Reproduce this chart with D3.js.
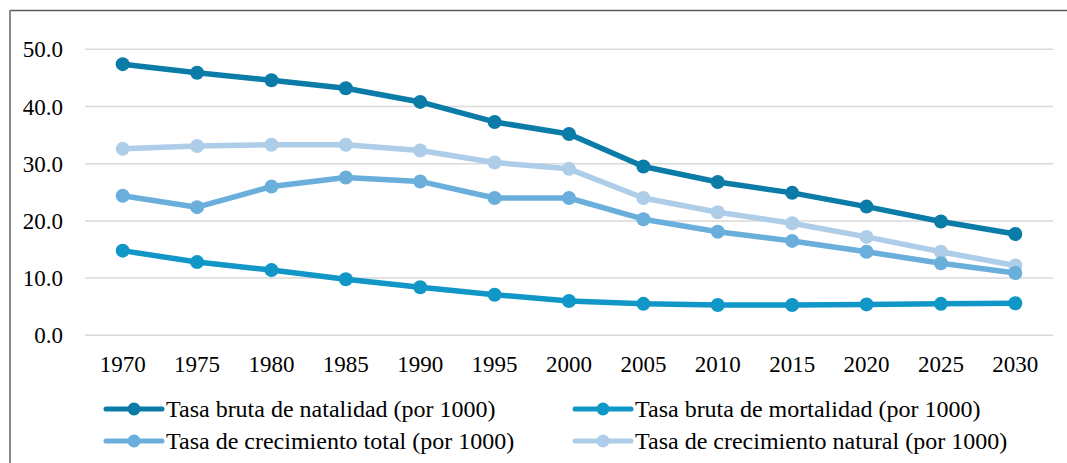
<!DOCTYPE html>
<html lang="es">
<head>
    <meta charset="UTF-8">
    <title>Tasas demográficas 1970-2030</title>
    <script src="https://d3js.org/d3.v7.min.js"></script>
    <style>
        body {
            margin: 0;
            background: #fff;
        }
        svg text {
            font-family: "Liberation Serif", "Times New Roman", Times, serif;
            fill: #000;
        }
        .tick-label {
            font-size: 23px;
        }
        .legend-label {
            font-size: 24px;
        }
    </style>
</head>
<body>
    <div id="chart"></div>

    <script>
        // Data
        const years = ["1970", "1975", "1980", "1985", "1990", "1995", "2000",
                       "2005", "2010", "2015", "2020", "2025", "2030"];
        const natalidad   = [47.4, 45.9, 44.6, 43.2, 40.8, 37.3, 35.2, 29.5, 26.8, 24.9, 22.5, 19.9, 17.7];
        const mortalidad  = [14.8, 12.8, 11.4, 9.8, 8.4, 7.1, 6.0, 5.5, 5.3, 5.3, 5.4, 5.5, 5.6];
        const crecTotal   = [24.4, 22.4, 26.0, 27.6, 26.9, 24.0, 24.0, 20.3, 18.1, 16.5, 14.6, 12.6, 10.9];
        const crecNatural = [32.6, 33.1, 33.3, 33.3, 32.3, 30.2, 29.1, 24.0, 21.5, 19.6, 17.2, 14.6, 12.2];
        const yTicks = [0, 10, 20, 30, 40, 50];

        const series = [
            { name: "Tasa bruta de natalidad (por 1000)", values: natalidad, color: "#0b7ba7" },
            { name: "Tasa bruta de mortalidad (por 1000)", values: mortalidad, color: "#1196c8" },
            { name: "Tasa de crecimiento total (por 1000)", values: crecTotal, color: "#6aafdc" },
            { name: "Tasa de crecimiento natural (por 1000)", values: crecNatural, color: "#aecde8" }
        ];
        // draw order: lighter lines underneath the darker ones
        const drawOrder = [3, 2, 1, 0];

        const width = 1067, height = 463;

        const svg = d3.select("#chart").append("svg")
            .attr("width", width)
            .attr("height", height)
            .attr("viewBox", [0, 0, width, height]);

        // frame (only the top and left edges fall inside the picture)
        svg.append("line")
            .attr("x1", 10).attr("x2", width)
            .attr("y1", 10.5).attr("y2", 10.5)
            .attr("stroke", "#5a5a5a").attr("stroke-width", 1.5);
        svg.append("line")
            .attr("x1", 10).attr("x2", 10)
            .attr("y1", 10).attr("y2", height)
            .attr("stroke", "#8a8a8a").attr("stroke-width", 2);

        const x = d3.scalePoint()
            .domain(years)
            .range([85.5, 1052.5])
            .padding(0.5);

        const y = d3.scaleLinear()
            .domain([0, 50])
            .range([335.3, 49.3]);

        // gridlines
        svg.append("g")
            .selectAll("line")
            .data(yTicks)
            .join("line")
            .attr("x1", 85).attr("x2", 1053)
            .attr("y1", d => y(d)).attr("y2", d => y(d))
            .attr("stroke", "#d9d9d9")
            .attr("stroke-width", 1.5);

        // y labels
        svg.append("g")
            .selectAll("text")
            .data(yTicks)
            .join("text")
            .attr("class", "tick-label")
            .attr("x", 63)
            .attr("y", d => y(d))
            .attr("dy", "0.35em")
            .attr("text-anchor", "end")
            .text(d => d3.format(".1f")(d));

        // x labels
        svg.append("g")
            .selectAll("text")
            .data(years)
            .join("text")
            .attr("class", "tick-label")
            .attr("x", d => x(d))
            .attr("y", 372)
            .attr("text-anchor", "middle")
            .text(d => d);

        const line = d3.line()
            .x((d, i) => x(years[i]))
            .y(d => y(d));

        drawOrder.forEach(k => {
            const s = series[k];
            const g = svg.append("g");
            g.append("path")
                .datum(s.values)
                .attr("fill", "none")
                .attr("stroke", s.color)
                .attr("stroke-width", 5.5)
                .attr("stroke-linejoin", "round")
                .attr("d", line);
            g.selectAll("circle")
                .data(s.values)
                .join("circle")
                .attr("cx", (d, i) => x(years[i]))
                .attr("cy", d => y(d))
                .attr("r", 7)
                .attr("fill", s.color);
        });

        // legend, 2 columns x 2 rows
        const legendPos = [
            { lx: 106, ly: 409 },
            { lx: 575, ly: 409 },
            { lx: 106, ly: 441 },
            { lx: 575, ly: 441 }
        ];

        const legend = svg.append("g")
            .selectAll("g")
            .data(series)
            .join("g")
            .attr("transform", (d, i) => `translate(${legendPos[i].lx},${legendPos[i].ly})`);

        legend.append("line")
            .attr("x1", 0).attr("x2", 56)
            .attr("stroke", d => d.color)
            .attr("stroke-width", 5)
            .attr("stroke-linecap", "round");
        legend.append("circle")
            .attr("cx", 28)
            .attr("r", 6.5)
            .attr("fill", d => d.color);
        legend.append("text")
            .attr("class", "legend-label")
            .attr("x", 60)
            .attr("dy", "0.35em")
            .text(d => d.name);
    </script>
</body>
</html>
